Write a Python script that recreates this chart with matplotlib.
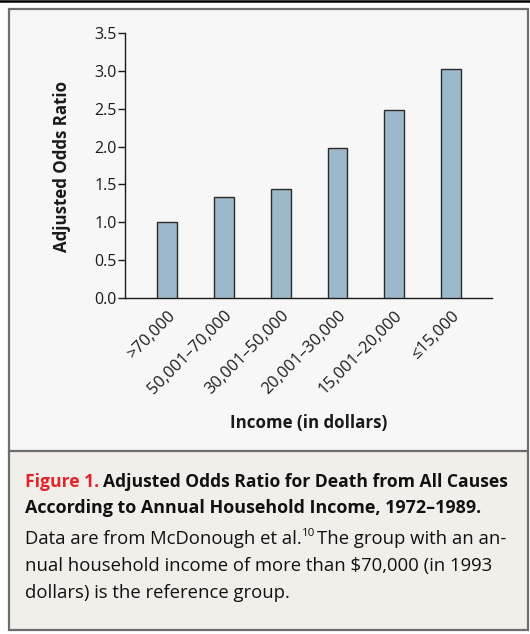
import matplotlib
matplotlib.use("Agg")
import matplotlib.pyplot as plt
from matplotlib.patches import Rectangle
from matplotlib.lines import Line2D

plt.rcParams['font.family'] = ['Open Sans', 'DejaVu Sans']

# data
income_groups = ['>70,000', '50,001\u201370,000', '30,001\u201350,000',
                 '20,001\u201330,000', '15,001\u201320,000', '\u226415,000']
odds_ratio = [1.0, 1.34, 1.44, 1.98, 2.48, 3.02]
y_ticks = [0.0, 0.5, 1.0, 1.5, 2.0, 2.5, 3.0, 3.5]

W, H = 530, 634
fig = plt.figure(figsize=(W / 100, H / 100), dpi=100)
fig.patch.set_facecolor('white')

def px(x, y):
    return x / W, 1 - y / H

# panel backgrounds and frame
fig.patches.append(Rectangle(px(9, 451), 518 / W, 442 / H, transform=fig.transFigure,
                             facecolor='#f7f7f7', edgecolor='none', zorder=-2))
fig.patches.append(Rectangle(px(9, 629), 518 / W, 178 / H, transform=fig.transFigure,
                             facecolor='#f2eee9', edgecolor='none', zorder=-2))
fig.patches.append(Rectangle(px(8.5, 629.5), 519 / W, 621 / H, transform=fig.transFigure,
                             facecolor='none', edgecolor='#6e6e6e', linewidth=1.6, zorder=-1))
fig.lines.append(Line2D([9 / W, 527 / W], [1 - 451 / H] * 2, transform=fig.transFigure,
                        color='#6e6e6e', linewidth=1.6, zorder=-1))
fig.lines.append(Line2D([0, 1], [1 - 1.2 / H] * 2, transform=fig.transFigure,
                        color='black', linewidth=1.8, zorder=-1))

ax = fig.add_axes([125 / W, 1 - 298 / H, (492 - 125) / W, (298 - 33) / H])
ax.set_zorder(5)
ax.set_facecolor('none')
x = range(len(income_groups))
ax.bar(x, odds_ratio, width=0.35, color='#9bb9ca', edgecolor='#2b2b2b', linewidth=1.0, zorder=3)
ax.set_xlim(-0.74, 5.72)
ax.set_ylim(0, 3.5)
ax.set_yticks(y_ticks)
ax.set_yticklabels(['%.1f' % v for v in y_ticks], fontsize=11.5, color='#1a1a1a')
ax.tick_params(axis='y', length=5, width=1, color='#1a1a1a', pad=1)
ax.set_xticks(list(x))
ax.set_xticklabels(income_groups, rotation=45, ha='right', va='top', fontsize=11.8,
                   color='#1a1a1a', rotation_mode='anchor')
ax.tick_params(axis='x', length=0, pad=7)
for s in ['top', 'right']:
    ax.spines[s].set_visible(False)
for s in ['left', 'bottom']:
    ax.spines[s].set_color('#1a1a1a')
    ax.spines[s].set_linewidth(1.0)

fig.text(*px(62, 166), 'Adjusted Odds Ratio', rotation=90, ha='center', va='center',
         fontsize=12.2, fontweight='bold', color='#1a1a1a')
fig.text(*px(309, 423), 'Income (in dollars)', ha='center', va='center',
         fontsize=12.2, fontweight='bold', color='#1a1a1a')

# caption
fig.canvas.draw()
r = fig.canvas.get_renderer()
cap_size = 12.6
body_size = 13.3
t1 = fig.text(*px(25, 482), 'Figure 1.', ha='left', va='center', fontsize=cap_size,
              fontweight='bold', color='#e3242b')
bb = t1.get_window_extent(r)
fig.text(bb.x1 / W + 4 / W, 1 - 482 / H, 'Adjusted Odds Ratio for Death from All Causes',
         ha='left', va='center', fontsize=cap_size, fontweight='bold', color='#111111')
fig.text(*px(25, 508), 'According to Annual Household Income, 1972\u20131989.', ha='left',
         va='center', fontsize=cap_size * 1.02, fontweight='bold', color='#111111')
t2 = fig.text(*px(25, 539), 'Data are from McDonough et al.', ha='left', va='center',
              fontsize=body_size, color='#111111')
bb = t2.get_window_extent(r)
t3 = fig.text(bb.x1 / W, 1 - 534 / H, '10', ha='left', va='center',
              fontsize=body_size * 0.62, color='#111111')
bb = t3.get_window_extent(r)
fig.text(bb.x1 / W + 2 / W, 1 - 539 / H, 'The group with an an-', ha='left', va='center',
         fontsize=body_size, color='#111111')
fig.text(*px(25, 566), 'nual household income of more than $70,000 (in 1993', ha='left',
         va='center', fontsize=body_size, color='#111111')
fig.text(*px(25, 593), 'dollars) is the reference group.', ha='left', va='center',
         fontsize=body_size, color='#111111')

fig.savefig('out.png', dpi=100)
